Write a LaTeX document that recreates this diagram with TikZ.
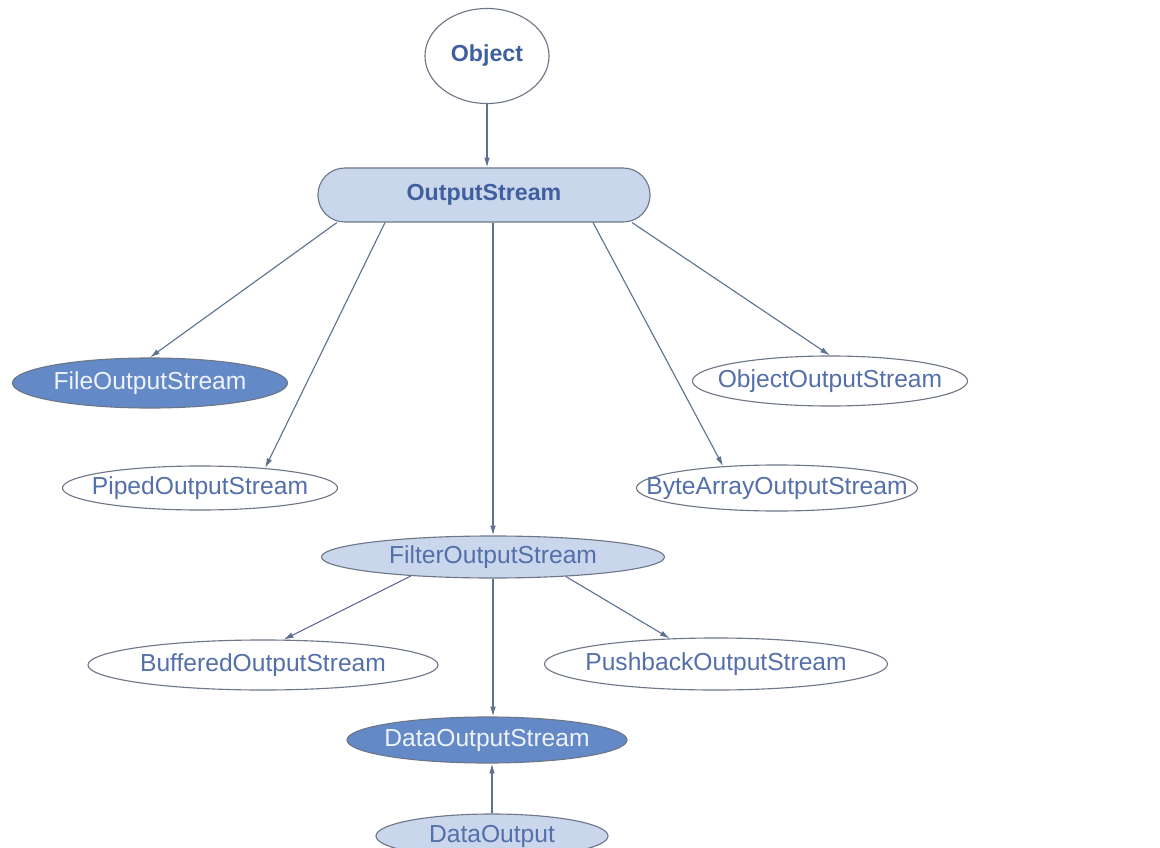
\documentclass[tikz,border=0pt]{standalone}
\usepackage{fontspec}
\setmainfont{Liberation Sans}
\usetikzlibrary{shapes.geometric,arrows.meta}
\definecolor{edgeblue}{HTML}{5D7190}
\definecolor{rimgray}{HTML}{6E7788}
\definecolor{lightfill}{HTML}{C9D6EC}
\definecolor{darkfill}{HTML}{6389C6}
\definecolor{textblue}{HTML}{5470AA}
\definecolor{boldblue}{HTML}{3F5F9F}
\definecolor{paletext}{HTML}{EEF2FA}
\tikzset{Box/.style    = {draw=rimgray, line width=0.8pt, fill=white,
                          text=textblue, font=\fontsize{17.5}{20}\selectfont},
    Stream/.style      = {Box, ellipse, inner xsep=-80pt, inner ysep=-20pt},
    LightStream/.style = {Stream, fill=lightfill},
    DarkStream/.style  = {Stream, fill=darkfill, text=paletext},
    RootText/.style    = {font=\fontsize{16.5}{19}\selectfont\bfseries, text=boldblue},
    EdgeStyle/.style   = {draw=edgeblue, line width=0.8pt,
                          -{Latex[length=7pt,width=4pt]}}}

\begin{document}
\begin{tikzpicture}[x=0.025cm, y=-0.025cm]
        \clip (0,0) rectangle (1160,848);
        \node[Stream, RootText, minimum width=3.1cm, minimum height=2.375cm] (Obj) at (487,56) {Object};
        \node[Box, RootText, rectangle, rounded corners=0.67cm, fill=lightfill,
              inner sep=0pt, minimum width=8.3cm, minimum height=1.35cm] (OS) at (484,195) {OutputStream};
        \node[DarkStream, minimum width=6.875cm, minimum height=1.25cm] (FOS) at (150,383) {FileOutputStream};
        \node[Stream, minimum width=6.875cm, minimum height=1.25cm] (OOS) at (830,381) {ObjectOutputStream};
        \node[Stream, minimum width=6.875cm, minimum height=1.1cm] (POS) at (200,488) {PipedOutputStream};
        \node[Stream, minimum width=7.025cm, minimum height=1.15cm] (BAOS) at (777,488) {ByteArrayOutputStream};
        \node[LightStream, minimum width=8.575cm, minimum height=1.05cm] (Filter) at (493,557) {FilterOutputStream};
        \node[Stream, minimum width=8.75cm, minimum height=1.25cm] (BOS) at (263,665) {BufferedOutputStream};
        \node[Stream, minimum width=8.575cm, minimum height=1.3cm] (PBOS) at (716,664) {PushbackOutputStream};
        \node[DarkStream, minimum width=7cm, minimum height=1.15cm] (DOS) at (487,740) {DataOutputStream};
        \node[LightStream, minimum width=5.8cm, minimum height=1.1cm] (DO) at (492,836) {DataOutput};
        \draw[EdgeStyle] (Obj.south) -- (Obj.south |- OS.north);
        \draw[EdgeStyle] ([xshift=-3.675cm]OS.south) -- (FOS.north);
        \draw[EdgeStyle] ([xshift=-2.475cm]OS.south) -- (POS.17.5);
        \draw[EdgeStyle] (Filter.north |- OS.south) -- (Filter.north);
        \draw[EdgeStyle] ([xshift=2.725cm]OS.south) -- (BAOS.158.6);
        \draw[EdgeStyle] ([xshift=3.7cm]OS.south) -- (OOS.north);
        \draw[EdgeStyle] (Filter.-167.5) -- (BOS.51.6);
        \draw[EdgeStyle] (Filter.-15.3) -- (PBOS.151.5);
        \draw[EdgeStyle] (Filter.south) -- (Filter.south |- DOS.north);
        \draw[EdgeStyle] (DO.north) -- (DO.north |- DOS.south);
      \end{tikzpicture}
\end{document}
